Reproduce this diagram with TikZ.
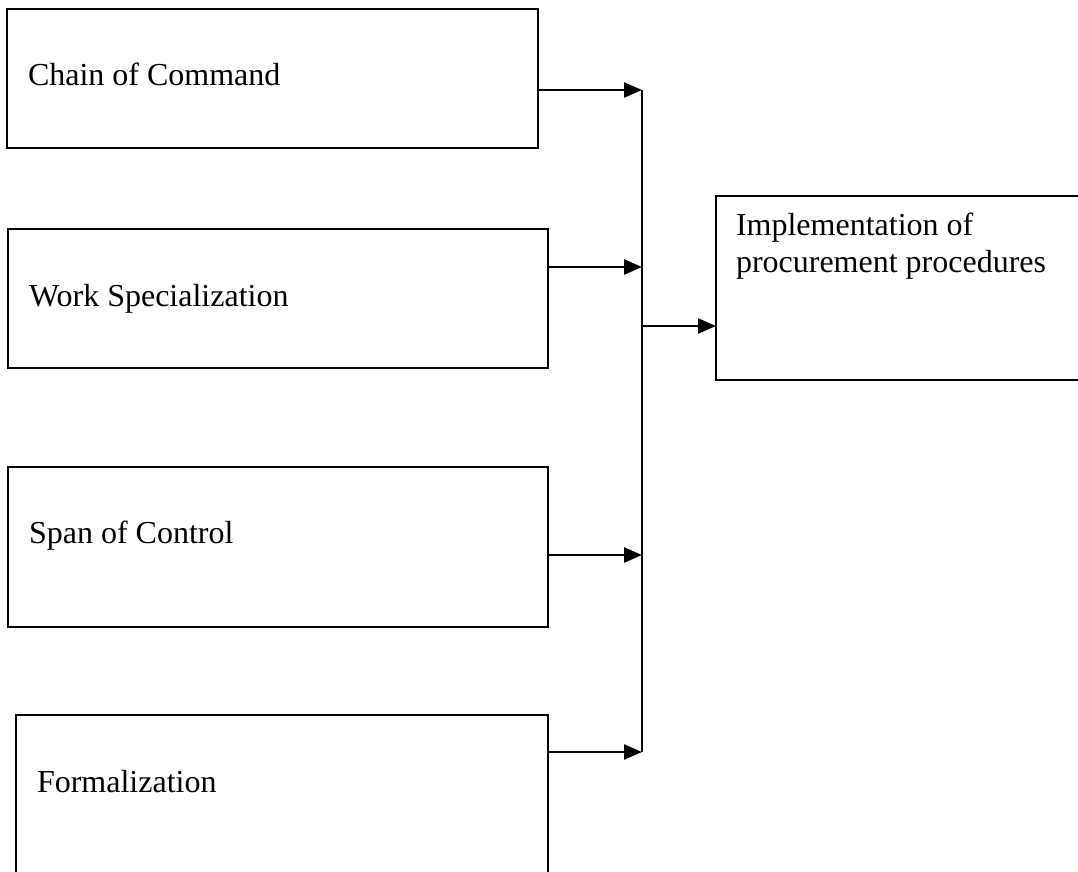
\documentclass[tikz,border=0pt]{standalone}
\usepackage{fontspec}
\setmainfont{Liberation Serif}
\usetikzlibrary{arrows.meta}
\begin{document}
\begin{tikzpicture}[x=1pt,y=-1pt,
  box/.style={draw=black, line width=2pt, rectangle, inner sep=0pt, outer sep=0pt},
  lbl/.style={anchor=base west, inner sep=0pt, outer sep=0pt, font=\fontsize{32}{37}\selectfont, align=left},
  arr/.style={line width=2.4pt, -{Triangle[length=18pt,width=15pt]}},
  bus/.style={line width=1.4pt}]
\useasboundingbox (0,0) rectangle (1078,871);
\clip (0,0) rectangle (1078,871);
\fill[white] (0,0) rectangle (1078,871);
% boxes
\node[box, minimum width=531pt, minimum height=139pt] (b1) at (272.5,78.5) {};
\node[box, minimum width=540pt, minimum height=139pt] (b2) at (278,298.5) {};
\node[box, minimum width=540pt, minimum height=160pt] (b3) at (278,547) {};
\node[box, minimum width=532pt, minimum height=205pt] (b4) at (282,817.5) {};
\node[box, minimum width=394pt, minimum height=184pt] (impl) at (913,288) {};
% labels
\node[lbl] (t1) at (28,85) {Chain of Command};
\node[lbl] (t2) at (29,306) {Work Specialization};
\node[lbl] (t3) at (29,543) {Span of Control};
\node[lbl] (t4) at (37,792) {Formalization};
\node[lbl] (t5) at (736,272) {Implementation of\\procurement procedures};
% junctions
\coordinate (j1) at (642,90);
\coordinate (j2) at (642,267);
\coordinate (j3) at (642,555);
\coordinate (j4) at (642,752);
\coordinate (jm) at (642,326);
% connectors
\draw[arr] (b1.east |- j1) -- (j1);
\draw[arr] (b2.east |- j2) -- (j2);
\draw[arr] (b3.east |- j3) -- (j3);
\draw[arr] (b4.east |- j4) -- (j4);
\draw[bus] (j1) -- (j4);
\draw[arr] (jm) -- (impl.west |- jm);
\end{tikzpicture}
\end{document}
